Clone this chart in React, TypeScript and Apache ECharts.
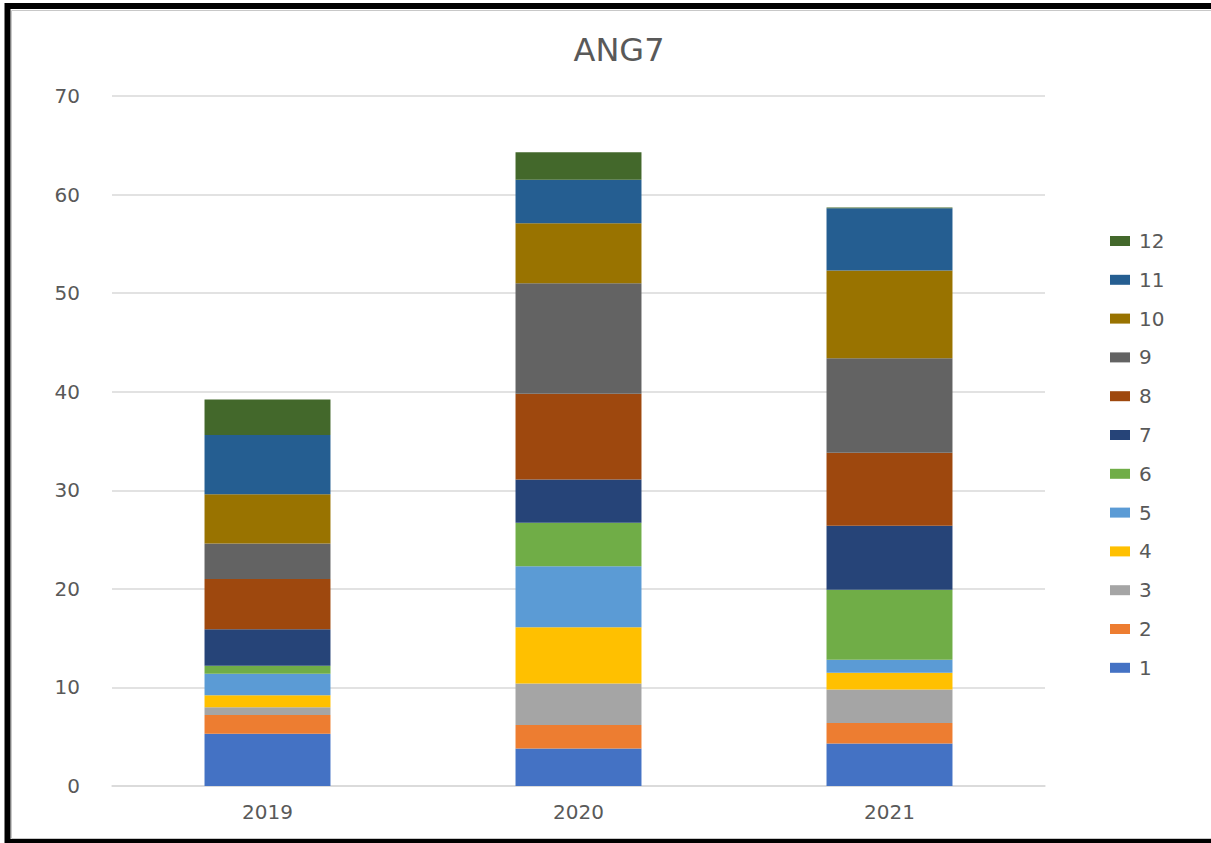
import React, { useEffect, useRef } from "react";
import * as echarts from "echarts";

const categories = ["2019", "2020", "2021"];
const seriesNames = ["1", "2", "3", "4", "5", "6", "7", "8", "9", "10", "11", "12"];
const colors = [
  "#4472C4", "#ED7D31", "#A5A5A5", "#FFC000", "#5B9BD5", "#70AD47",
  "#264478", "#9E480E", "#636363", "#997300", "#255E91", "#43682B",
];
const s1 = [5.3, 3.8, 4.3];
const s2 = [1.9, 2.4, 2.1];
const s3 = [0.8, 4.2, 3.4];
const s4 = [1.2, 5.7, 1.7];
const s5 = [2.2, 6.2, 1.3];
const s6 = [0.8, 4.4, 7.1];
const s7 = [3.7, 4.4, 6.5];
const s8 = [5.1, 8.7, 7.4];
const s9 = [3.6, 11.2, 9.6];
const s10 = [5.0, 6.1, 8.9];
const s11 = [6.0, 4.4, 6.3];
const s12 = [3.6, 2.8, 0.1];
const seriesValues = [s1, s2, s3, s4, s5, s6, s7, s8, s9, s10, s11, s12];
const legendOrder = [...seriesNames].reverse();

export default function App() {
  const ref = useRef<HTMLDivElement>(null);
  useEffect(() => {
    if (!ref.current) return;
    const chart = echarts.init(ref.current, null, { renderer: "svg" });
    const font = "DejaVu Sans";
    chart.setOption({
      animation: false,
      backgroundColor: "#ffffff",
      title: {
        text: "ANG7",
        left: 614,
        top: 29,
        textAlign: "center",
        textStyle: { fontFamily: font, fontSize: 32, fontWeight: "normal", color: "#595959" },
      },
      legend: {
        data: legendOrder,
        orient: "vertical",
        left: 1110,
        top: 231,
        padding: 0,
        itemWidth: 20,
        itemHeight: 10,
        itemGap: 18.8,
        icon: "rect",
        textStyle: { fontFamily: font, fontSize: 20, lineHeight: 20, color: "#595959", padding: [0, 0, 0, 4] },
      },
      grid: { left: 112, right: 166, top: 96, bottom: 57, containLabel: false },
      xAxis: {
        type: "category",
        data: categories,
        axisLine: { lineStyle: { color: "#d9d9d9", width: 1.5 } },
        axisTick: { show: false },
        axisLabel: { fontFamily: font, fontSize: 20, color: "#595959", margin: 16 },
      },
      yAxis: {
        type: "value",
        min: 0,
        max: 70,
        interval: 10,
        axisLine: { show: false },
        axisTick: { show: false },
        splitLine: { lineStyle: { color: "#d9d9d9", width: 1.5 } },
        axisLabel: { fontFamily: font, fontSize: 20, color: "#595959", margin: 32 },
      },
      graphic: [
        {
          type: "rect",
          silent: true,
          shape: { x: 11.5, y: 10.5, width: 1300, height: 828 },
          style: { fill: "none", stroke: "#c8c8c8", lineWidth: 1 },
        },
        {
          type: "rect",
          silent: true,
          shape: { x: 7.5, y: 6, width: 1300, height: 836 },
          style: { fill: "none", stroke: "#000000", lineWidth: 6 },
        },
      ],
      series: seriesNames.map((name, i) => ({
        name,
        type: "bar",
        stack: "total",
        barWidth: "40.5%",
        itemStyle: { color: colors[i] },
        data: seriesValues[i],
      })),
    });
    return () => chart.dispose();
  }, []);
  return (
    <div
      ref={ref}
      style={{ position: "fixed", left: 0, top: 0, width: 1211, height: 843, background: "#fff" }}
    />
  );
}
